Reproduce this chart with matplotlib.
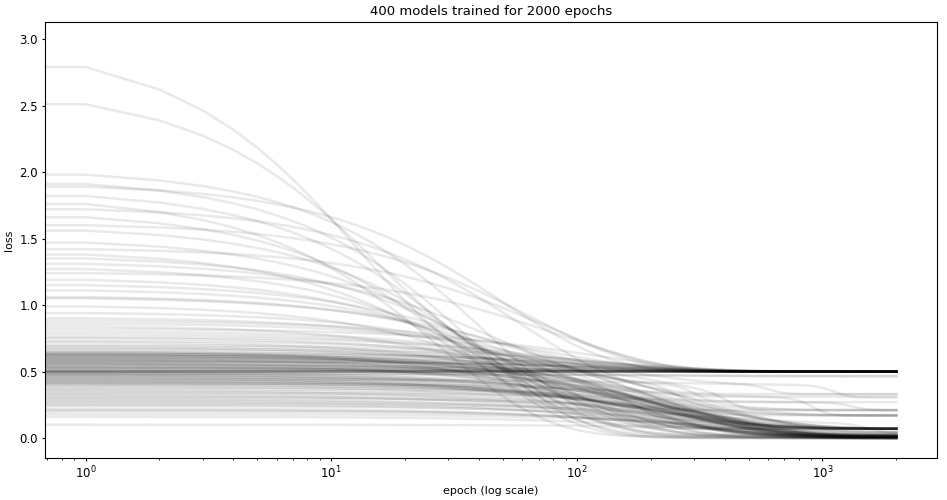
import numpy as np
import matplotlib
matplotlib.use("Agg")
import matplotlib.pyplot as plt

n_epochs = 2000

# loss at the first epochs, loss the model settles to, and epochs it takes to get there
start_loss = [2.79, 2.51, 1.98, 1.91, 1.89, 1.82, 1.76, 1.72, 1.66, 1.60,
              1.56, 1.47, 1.42, 1.38, 1.35, 1.31, 1.27, 1.24, 1.19, 1.15,
              1.11, 1.06, 1.05, 0.99, 0.94,
              0.90, 0.88, 0.86, 0.84, 0.82, 0.80, 0.78, 0.76, 0.75, 0.73,
              0.72, 0.70, 0.69, 0.68, 0.67, 0.66, 0.65, 0.64, 0.63, 0.63,
              0.62, 0.62, 0.61, 0.60, 0.60, 0.59, 0.58, 0.58, 0.57, 0.56,
              0.56, 0.55, 0.54, 0.53, 0.53, 0.52, 0.51, 0.50, 0.50, 0.50,
              0.50, 0.50, 0.49, 0.48, 0.48, 0.47, 0.46, 0.45, 0.44, 0.43,
              0.42, 0.41, 0.40, 0.39, 0.38, 0.37, 0.36, 0.35, 0.34, 0.33,
              0.32, 0.31, 0.30, 0.29, 0.28, 0.27, 0.26, 0.25, 0.24, 0.22,
              0.21, 0.20, 0.18, 0.16, 0.10,
              0.645, 0.635, 0.625, 0.615, 0.605, 0.595, 0.585, 0.575, 0.565, 0.555,
              0.545, 0.535, 0.525, 0.515, 0.505, 0.495, 0.485, 0.475, 0.465, 0.455,
              0.445, 0.435, 0.425, 0.415, 0.405]
final_loss = [0.50, 0.50, 0.02, 0.00, 0.50, 0.07, 0.01, 0.33, 0.00, 0.50,
              0.02, 0.21, 0.50, 0.01, 0.07, 0.40, 0.00, 0.50, 0.03, 0.50,
              0.00, 0.31, 0.50, 0.01, 0.17,
              0.01, 0.50, 0.07, 0.00, 0.50, 0.21, 0.01, 0.50, 0.03, 0.40,
              0.00, 0.50, 0.07, 0.01, 0.50, 0.27, 0.00, 0.50, 0.02, 0.50,
              0.07, 0.50, 0.01, 0.33, 0.50, 0.00, 0.50, 0.04, 0.50, 0.17,
              0.01, 0.50, 0.07, 0.50, 0.00, 0.50, 0.50, 0.50, 0.50, 0.50,
              0.50, 0.50, 0.02, 0.465, 0.01, 0.11, 0.07, 0.00, 0.40, 0.02,
              0.07, 0.305, 0.01, 0.00, 0.21, 0.07, 0.02, 0.01, 0.27, 0.07,
              0.00, 0.04, 0.17, 0.01, 0.07, 0.00, 0.11, 0.02, 0.07, 0.01,
              0.00, 0.04, 0.07, 0.01, 0.06,
              0.50, 0.01, 0.07, 0.50, 0.00, 0.50, 0.02, 0.50, 0.07, 0.01,
              0.50, 0.00, 0.50, 0.04, 0.50, 0.01, 0.465, 0.07, 0.00, 0.02,
              0.07, 0.01, 0.00, 0.07, 0.02]
decay_epochs = [13, 16, 45, 38, 50, 35, 28, 60, 36, 65,
                45, 40, 75, 42, 55, 48, 54, 85, 60, 42,
                80, 65, 52, 75, 95,
                130, 80, 170, 105, 120, 155, 220, 90, 180, 130,
                155, 120, 285, 210, 145, 235, 120, 105, 260, 170,
                195, 80, 300, 170, 130, 220, 120, 340, 155, 180,
                275, 90, 235, 130, 325, 65, 105, 130, 130, 130,
                130, 130, 300, 260, 210, 260, 340, 180, 235, 260,
                220, 210, 310, 235, 275, 340, 260, 210, 180, 300,
                235, 340, 275, 260, 285, 245, 325, 275, 300, 275,
                340, 310, 285, 340, 500,
                120, 235, 180, 145, 260, 90, 210, 155, 300, 170,
                130, 245, 120, 275, 130, 235, 195, 260, 195, 300,
                220, 260, 325, 245, 285]

# some models sit on a plateau and then drop again late in training
late_model = [15, 34, 40, 48, 70, 73, 76, 79, 83, 91]
late_epoch = [300, 600, 400, 250, 700, 1100, 900, 180, 1300, 1500]
late_loss = [0.27, 0.33, 0.17, 0.21, 0.07, 0.305, 0.17, 0.07, 0.21, 0.04]

epochs = np.arange(n_epochs + 1)
steps = np.maximum(epochs - 1, 0)

fig = plt.figure(figsize=(9.47, 5.0), dpi=100)
ax = fig.add_axes([0.0475, 0.084, 0.9419, 0.872])

for i in range(len(start_loss)):
    s, f, tau = start_loss[i], final_loss[i], decay_epochs[i]
    loss = f + (s - f) * np.exp(-steps / tau)
    if i in late_model:
        k = late_model.index(i)
        t = late_epoch[k]
        loss = loss - (f - late_loss[k]) / (1 + np.exp(-(epochs - t) / (0.08 * t)))
    ax.plot(epochs, loss, color="black", alpha=0.085, linewidth=1.8)

ax.set_xscale("log")
ax.set_xlim(0.684, 2924)
ax.set_ylim(-0.15, 3.128)
ax.set_yticks([0.0, 0.5, 1.0, 1.5, 2.0, 2.5, 3.0])
ax.set_title("400 models trained for 2000 epochs", fontsize=9.5, pad=5)
ax.set_xlabel("epoch (log scale)", fontsize=8, labelpad=3)
ax.set_ylabel("loss", fontsize=8, labelpad=4)
ax.tick_params(labelsize=8.5, length=2.5, pad=2.5)
ax.tick_params(which="minor", length=1.5)

fig.savefig("out.png", dpi=100)
